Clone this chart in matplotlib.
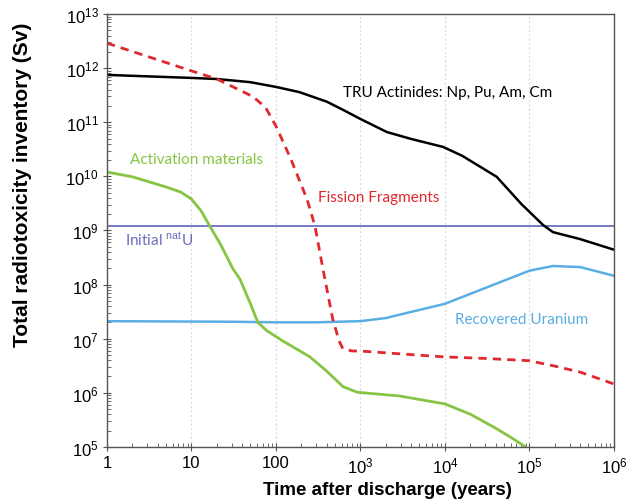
import numpy as np
import matplotlib
matplotlib.use("Agg")
import matplotlib.pyplot as plt
from matplotlib.ticker import LogLocator, NullFormatter, FixedLocator, FixedFormatter

plt.rcParams['font.family'] = ['Liberation Sans', 'DejaVu Sans']
plt.rcParams['mathtext.fontset'] = 'custom'
plt.rcParams['mathtext.rm'] = 'Liberation Sans'

# TRU actinides (Np, Pu, Am, Cm)
tru_t = [1, 10, 20, 50, 100, 190, 400, 620, 1000, 2050, 4000, 9500, 16000, 41000,
         80000, 145000, 190000, 400000, 1e6]
tru_sv = [7.5e11, 6.6e11, 6.3e11, 5.5e11, 4.5e11, 3.6e11, 2.4e11, 1.7e11, 1.15e11,
          6.6e10, 4.9e10, 3.5e10, 2.4e10, 9.8e9, 3.1e9, 1.26e9, 9.3e8, 6.9e8, 4.4e8]

# fission fragments
ff_t = [1, 10, 20, 53, 75, 100, 150, 233, 290, 360, 470, 560, 620, 800, 980,
        9500, 3e4, 1e5, 2e5, 4e5, 1e6]
ff_sv = [2.9e12, 8.9e11, 6.3e11, 3.0e11, 1.9e11, 8.5e10, 2.1e10, 3.8e9, 1.2e9, 1.95e8,
         2.3e7, 9e6, 6.5e6, 5.9e6, 5.9e6, 4.6e6, 4.3e6, 3.9e6, 3.1e6, 2.4e6, 1.45e6]

# activation materials
act_t = [1, 2, 5.1, 7.5, 10, 13, 16.5, 22, 31, 37.5, 50, 61, 78, 120, 252, 400, 620,
         910, 2900, 1e4, 2e4, 4e4, 6e4, 9e4]
act_sv = [1.2e10, 9.8e9, 6.3e9, 5.1e9, 3.8e9, 2.3e9, 1.2e9, 5.6e8, 1.95e8, 1.26e8, 4.4e7,
          2.0e7, 1.4e7, 9.1e6, 4.6e6, 2.5e6, 1.3e6, 1.02e6, 8.7e5, 6.2e5, 4.0e5, 2.2e5,
          1.5e5, 1.0e5]

# recovered uranium
ru_t = [1, 30, 100, 300, 1000, 2000, 3000, 1e4, 3.4e4, 1e5, 1.9e5, 4e5, 1e6]
ru_sv = [2.1e7, 2.05e7, 2.0e7, 2.0e7, 2.1e7, 2.4e7, 2.8e7, 4.4e7, 9.3e7, 1.8e8, 2.2e8,
         2.1e8, 1.45e8]

# initial natural uranium
nat_u = 1.2e9

x_ticks = [1, 10, 100, 1e3, 1e4, 1e5, 1e6]
x_labels = ['1', '10', '100', r'$\mathdefault{10^{3}}$', r'$\mathdefault{10^{4}}$',
            r'$\mathdefault{10^{5}}$', r'$\mathdefault{10^{6}}$']

fig = plt.figure(figsize=(6.29, 5.02), dpi=100)
ax = fig.add_axes([0.170, 0.108, 0.806, 0.862])

ax.set_xscale('log')
ax.set_yscale('log')
ax.set_xlim(1, 1e6)
ax.set_ylim(1e5, 1e13)

for g in x_ticks[1:-1]:
    ax.axvline(g, color='#d8d8d8', lw=0.9, ls=(0, (1.5, 2)), zorder=0)

ax.axhline(nat_u, color='#6d6dc0', lw=1.3)
ax.plot(ru_t, ru_sv, color='#5aaee3', lw=1.8)
ax.plot(act_t, act_sv, color='#86c443', lw=2.0)
ax.plot(tru_t, tru_sv, color='black', lw=1.8)
ax.plot(ff_t, ff_sv, color='#e0282e', lw=2.0, ls=(0, (3, 2.2)))

lab_font = ['Lato', 'DejaVu Sans']
ax.text(620, 3.6e11, 'TRU Actinides: Np, Pu, Am, Cm', color='black', fontsize=11,
        family=lab_font, va='center')
ax.text(1.87, 2.1e10, 'Activation materials', color='#86c443', fontsize=11,
        family=lab_font, va='center')
ax.text(315, 4.2e9, 'Fission Fragments', color='#e0282e', fontsize=11,
        family=lab_font, va='center')
ax.text(1.63, 6.9e8, r'Initial $^{\mathrm{nat}}$U', color='#6d6dc0', fontsize=11,
        family=lab_font, va='center')
ax.text(13000, 2.3e7, 'Recovered Uranium', color='#5aaee3', fontsize=11,
        family=lab_font, va='center')

ax.xaxis.set_major_locator(FixedLocator(x_ticks))
ax.xaxis.set_major_formatter(FixedFormatter(x_labels))
ax.xaxis.set_minor_locator(LogLocator(base=10, subs=np.arange(2, 10), numticks=20))
ax.xaxis.set_minor_formatter(NullFormatter())
ax.yaxis.set_major_locator(LogLocator(base=10, numticks=20))
ax.yaxis.set_minor_locator(LogLocator(base=10, subs=np.arange(2, 10), numticks=20))
ax.yaxis.set_minor_formatter(NullFormatter())

ax.tick_params(which='major', direction='inout', length=6, width=0.8, color='#555555',
               labelsize=12, pad=3)
ax.tick_params(which='minor', direction='in', length=3, width=0.6, color='#555555')
for s in ax.spines.values():
    s.set_color('#555555')
    s.set_linewidth(1.0)

ax.set_xlabel('Time after discharge (years)', fontsize=13.5, fontweight='bold')
ax.set_ylabel('Total radiotoxicity inventory (Sv)', fontsize=15, fontweight='bold')
ax.xaxis.set_label_coords(0.553, -0.078)
ax.yaxis.set_label_coords(-0.148, 0.607)

fig.savefig('out.png', dpi=100)
